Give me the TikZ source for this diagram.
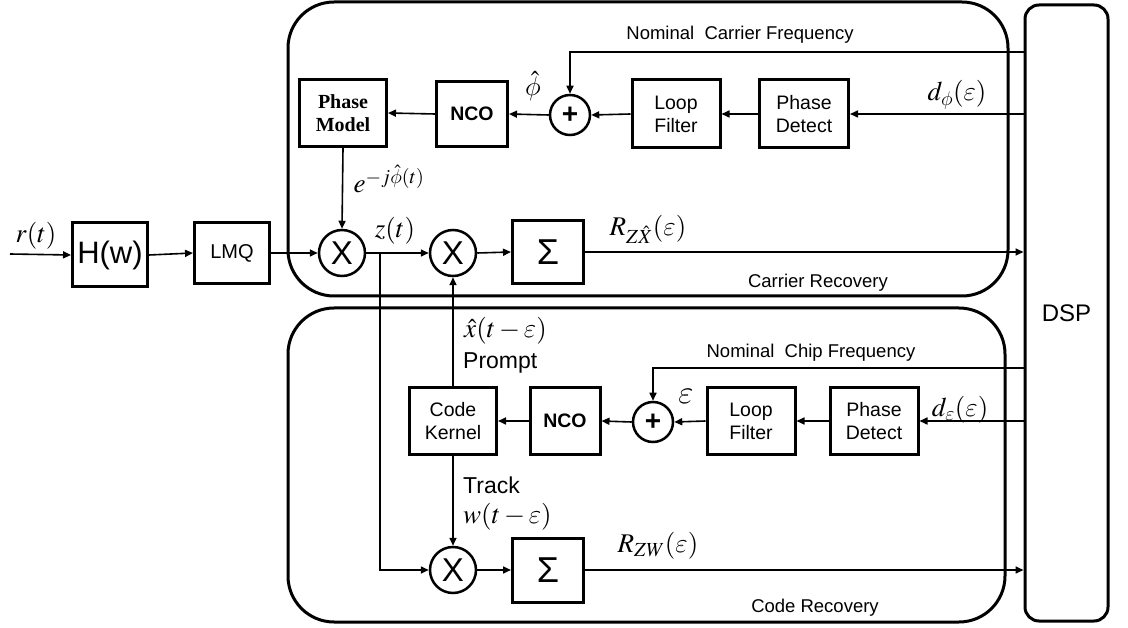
\documentclass[tikz,border=0pt]{standalone}
\usepackage{fix-cm}
\usepackage{mathptmx}
\DeclareSymbolFont{cmlet}{OML}{cmm}{m}{it}
\DeclareMathSymbol{\varepsilon}{\mathord}{cmlet}{"22}
\DeclareMathSymbol{\phi}{\mathord}{cmlet}{"1E}
\usepackage{fontspec}
\setmainfont{Liberation Sans}
\newfontfamily\tnrfont{Liberation Serif}
\usetikzlibrary{arrows.meta}
\newcommand{\myfs}[2]{\fontsize{#1}{#2}\selectfont}
\begin{document}
\begin{tikzpicture}[x=1pt,y=-1pt,
  blk/.style={draw, line width=3pt, inner sep=0pt, align=center, font=\myfs{19.5}{23},
    minimum width=87pt, minimum height=67pt},
  mult/.style={circle, draw, line width=2.5pt, inner sep=0pt, minimum size=46pt, font=\myfs{33}{33}},
  sumc/.style={circle, draw, line width=2.5pt, inner sep=0pt, minimum size=40pt, font=\bfseries\myfs{28}{28}},
  container/.style={draw, line width=3pt, rounded corners=46pt, inner sep=0pt},
  conn/.style={line width=1.6pt, -{Triangle[length=8pt,width=7pt]}},
  lbl/.style={inner sep=0pt, font=\myfs{18.5}{20}},
  mlbl/.style={inner sep=0pt, font=\myfs{27}{27}},
  big/.style={inner sep=0pt, font=\myfs{23}{25}}
]
\useasboundingbox (0,0) rectangle (1128,628);

% containers
\node[container, minimum width=720pt, minimum height=294pt] (CR) at (648,149) {};
\node[container, minimum width=717pt, minimum height=314pt] (CD) at (646.5,465) {};
\node[draw, line width=3pt, rounded corners=14pt, inner sep=0pt, minimum width=83pt,
  minimum height=616pt, font=\myfs{24}{24}] (DSP) at (1066.5,313) {DSP};

% input chain
\coordinate (in) at (10,254);
\node[blk, minimum width=75pt, minimum height=64pt, font=\myfs{31}{31}] (H) at (110,255) {H(w)};
\node[blk, minimum width=75pt, minimum height=61pt, font=\myfs{20}{20}] (LMQ) at (232,253) {LMQ};
\node[mlbl] (rl) at (36,236) {$r(t)$};

% carrier recovery
\node[blk, font=\tnrfont\bfseries\myfs{20}{23}] (PM) at (343,113) {Phase\\Model};
\node[blk, minimum width=71pt, minimum height=65pt, font=\bfseries\myfs{19.5}{23}] (NCO1) at (472,114) {NCO};
\node[sumc] (p1) at (570,115) {+};
\node[blk, minimum width=88pt, minimum height=68pt] (LF1) at (676,114) {Loop\\Filter};
\node[blk, minimum width=89pt, minimum height=68pt] (PD1) at (804,114) {Phase\\Detect};
\node[mult] (m1) at (342,253) {X};
\node[mult] (m2) at (453,253) {X};
\node[blk, minimum width=71pt, minimum height=63pt, font=\myfs{36}{36}] (S1) at (548,252) {Σ};

\node[lbl] (ncf) at (740,35) {Nominal\ \ Carrier Frequency};
\node[mlbl] (phl) at (533,86) {$\hat{\phi}$};
\node[mlbl] (el) at (389,179) {$e^{-j\hat{\phi}(t)}$};
\node[mlbl] (dphl) at (957,95) {$d_{\phi}(\varepsilon)$};
\node[mlbl] (zl) at (395,231) {$z(t)$};
\node[mlbl] (rzx) at (648,229) {$R_{Z\hat{X}}(\varepsilon)$};
\node[lbl] (crl) at (818,283) {Carrier Recovery};

\draw[conn] (in) -- (H.west);
\draw[conn] (H.east) -- (LMQ.west);
\draw[conn] (LMQ.east) -- (m1.west);
\draw[conn] (PM.south) -- (m1.north);
\draw[conn] (m1.east) -- (m2.west);
\draw[conn] (m2.east) -- (S1.west);
\draw[conn] (S1.east) -- (DSP.west |- S1.east);
\draw[conn] (DSP.west |- PD1.east) -- (PD1.east);
\draw[conn] (PD1.west) -- (LF1.east);
\draw[conn] (LF1.west) -- (p1.east);
\draw[conn] (p1.west) -- (NCO1.east);
\draw[conn] (NCO1.west) -- (PM.east);
\coordinate (ncy) at (570,52);
\draw[conn] (DSP.west |- ncy) -- (ncy) -- (p1.north);

% code recovery
\node[blk, minimum height=67pt] (CK) at (453,421) {Code\\Kernel};
\node[blk, minimum width=70pt, minimum height=67pt, font=\bfseries\myfs{19.5}{23}] (NCO2) at (565,421) {NCO};
\node[sumc] (p2) at (653,422) {+};
\node[blk, minimum width=88pt, minimum height=66pt] (LF2) at (751,421) {Loop\\Filter};
\node[blk, minimum width=88pt, minimum height=66pt] (PD2) at (874,421) {Phase\\Detect};
\node[mult] (m3) at (453,570) {X};
\node[blk, minimum width=71pt, minimum height=64pt, font=\myfs{36}{36}] (S2) at (548,570) {Σ};

\node[lbl] (ncp) at (811,353) {Nominal\ \ Chip Frequency};
\node[inner sep=0pt, font=\myfs{33}{33}] (epl) at (686,396) {$\varepsilon$};
\node[mlbl] (del) at (960,410) {$d_{\varepsilon}(\varepsilon)$};
\node[mlbl, anchor=west] (xl) at (464,331) {$\hat{x}(t-\varepsilon)$};
\node[big, anchor=west] (prl) at (463,363) {Prompt};
\node[big, anchor=west] (trl) at (463,485) {Track};
\node[mlbl, anchor=west] (wl) at (463,517) {$w(t-\varepsilon)$};
\node[mlbl] (rzw) at (658,546) {$R_{ZW}(\varepsilon)$};
\node[lbl] (cdl) at (815,608) {Code Recovery};

\draw[conn] (DSP.west |- PD2.east) -- (PD2.east);
\draw[conn] (PD2.west) -- (LF2.east);
\draw[conn] (LF2.west) -- (p2.east);
\draw[conn] (p2.west) -- (NCO2.east);
\draw[conn] (NCO2.west) -- (CK.east);
\coordinate (ncq) at (653,368);
\draw[conn] (DSP.west |- ncq) -- (ncq) -- (p2.north);
\draw[conn] (CK.north) -- (m2.south);
\draw[conn] (CK.south) -- (m3.north);
\coordinate (zb) at (380,253);
\draw[conn] (zb) |- (m3.west);
\draw[conn] (m3.east) -- (S2.west);
\draw[conn] (S2.east) -- (DSP.west |- S2.east);
\end{tikzpicture}
\end{document}
